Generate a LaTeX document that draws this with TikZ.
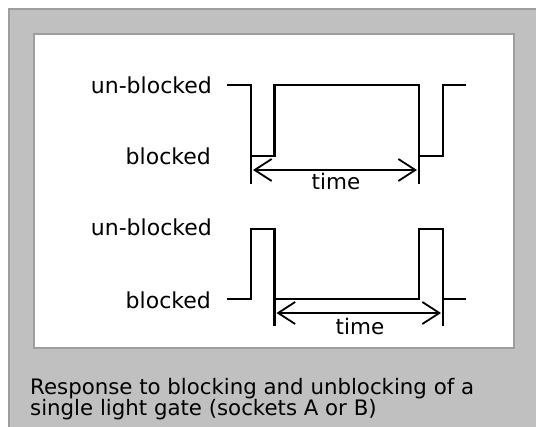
\documentclass[tikz,border=0pt]{standalone}
\usepackage{fontspec}
\setmainfont{DejaVu Sans}
\usetikzlibrary{arrows.meta}
\definecolor{panelgray}{RGB}{192,192,192}
\definecolor{edgegray}{RGB}{158,158,158}
\tikzset{
  wave/.style={line width=2.4pt, line join=miter},
  marker/.style={line width=2.4pt},
  span/.style={line width=1.8pt, {Straight Barb[length=17pt,width=22pt]}-{Straight Barb[length=17pt,width=22pt]}},
  lbl/.style={font=\fontsize{22}{24}\selectfont, inner sep=0pt, anchor=east},
  tlbl/.style={font=\fontsize{21.5}{24}\selectfont, inner sep=0pt},
}
\begin{document}
\begin{tikzpicture}[x=1pt,y=-1pt]
\useasboundingbox (0,0) rectangle (536,427);
\fill[white] (0,0) rectangle (536,427);
% outer panel
\fill[panelgray] (8,8) rectangle (540,430);
\draw[edgegray, line width=2.5pt] (9,430) -- (9,9) -- (540,9);
% inner white panel
\fill[white, draw=edgegray, line width=2pt] (34,34) rectangle (514,348);

% labels top
\node[lbl] (ub1) at (212,85) {un-blocked};
\node[lbl] (b1) at (211,156) {blocked};
% top waveform
\draw[wave] (227,85) -- (251,85) -- (251,156) -- (274.5,156) -- (274.5,85) -- (419,85) -- (419,156) -- (443,156) -- (443,85) -- (466,85);
\coordinate (m1a) at (251,156);
\coordinate (m1b) at (251,184);
\coordinate (m2a) at (419,156);
\coordinate (m2b) at (419,184);
\draw[marker] (m1a) -- (m1b);
\draw[marker] (m2a) -- (m2b);
\coordinate (a1s) at (253,170);
\coordinate (a1e) at (417,170);
\draw[span] (a1s) -- (a1e);
\node[tlbl] (t1) at (336,181) {time};

% labels bottom
\node[lbl] (ub2) at (212,227) {un-blocked};
\node[lbl] (b2) at (211,300) {blocked};
% bottom waveform
\draw[wave] (227,299) -- (251,299) -- (251,229) -- (274.5,229) -- (274.5,299) -- (419,299) -- (419,229) -- (443,229) -- (443,299);
\draw[wave] (443,299) -- (466,299);
\coordinate (m3a) at (274.5,299);
\coordinate (m3b) at (274.5,326.5);
\coordinate (m4a) at (443,299);
\coordinate (m4b) at (443,326.5);
\draw[marker] (m3a) -- (m3b);
\draw[marker] (m4a) -- (m4b);
\coordinate (a2s) at (276.5,313);
\coordinate (a2e) at (441,313);
\draw[span] (a2s) -- (a2e);
\node[tlbl] (t2) at (360,326) {time};

% caption
\node[font=\fontsize{21.3}{19}\selectfont, inner sep=0pt, anchor=north west, align=left] (cap) at (30,378)
  {Response to blocking and unblocking of a\\single light gate (sockets A or B)};
\end{tikzpicture}
\end{document}
